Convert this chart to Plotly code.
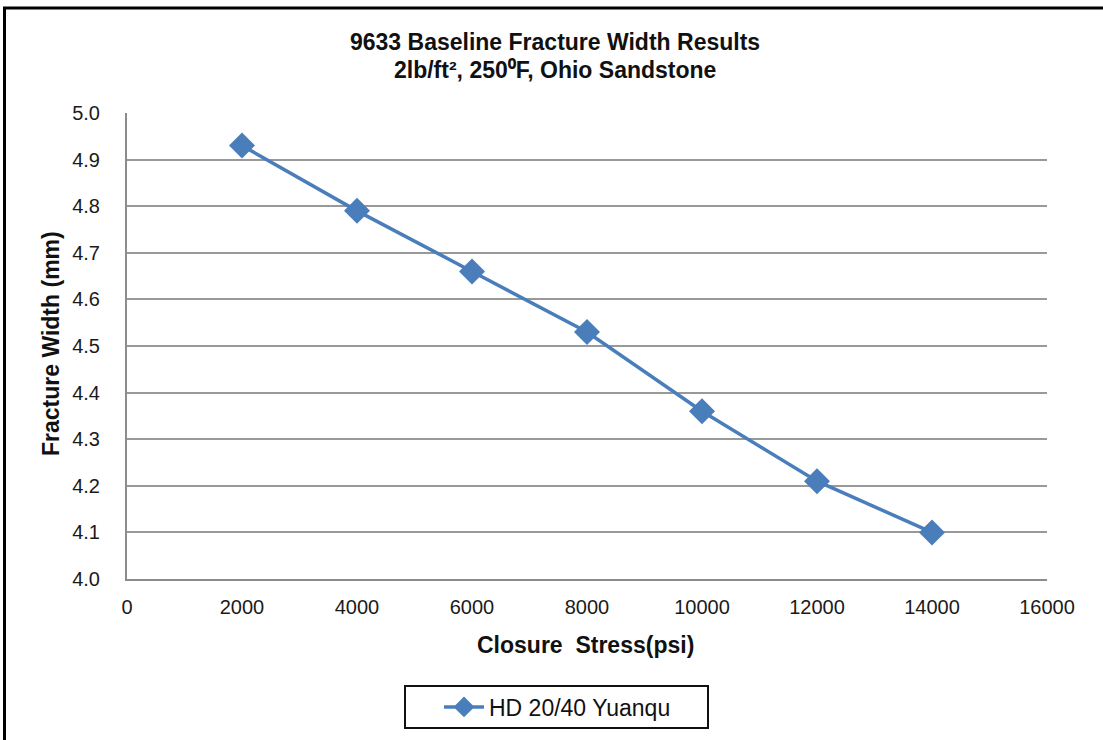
import plotly.graph_objects as go

stress = [2000, 4000, 6000, 8000, 10000, 12000, 14000]
width_mm = [4.93, 4.79, 4.66, 4.53, 4.36, 4.21, 4.10]
series_name = "HD 20/40 Yuanqu"
x_ticks = [0, 2000, 4000, 6000, 8000, 10000, 12000, 14000, 16000]

W, H = 1103, 740
PL, PR, PT, PB = 127, 1047, 113, 579
L = PL
T = PT
R = W - PR
B = H - PB
pw = PR - PL
ph = PB - PT

def px_x(px):
    return (px - PL) / pw

def px_y(py):
    return (PB - py) / ph

font_family = "Liberation Sans, Arial, sans-serif"
blue = "#4A7EBB"

fig = go.Figure()
fig.add_trace(go.Scatter(
    x=stress, y=width_mm, mode="lines+markers", name=series_name,
    line=dict(color=blue, width=3.5),
    marker=dict(symbol="diamond", size=20, color=blue),
))

fig.update_layout(
    width=W, height=H,
    margin=dict(l=L, r=R, t=T, b=B),
    paper_bgcolor="white", plot_bgcolor="white",
    font=dict(family=font_family, color="#1a1a1a"),
    showlegend=True,
    legend=dict(
        x=px_x(439), y=px_y(707), xanchor="left", yanchor="middle",
        orientation="h", borderwidth=0, itemwidth=40,
        font=dict(size=23, family=font_family, color="#111111"),
        bgcolor="rgba(0,0,0,0)",
    ),
    xaxis=dict(
        range=[0, 16000], tickmode="array", tickvals=x_ticks,
        ticktext=[str(v) for v in x_ticks],
        showgrid=False, showline=True, linecolor="#8c8c8c", linewidth=2,
        ticks="", zeroline=False,
        tickfont=dict(size=20, family=font_family, color="#1a1a1a"),
        ticklabelstandoff=9,
    ),
    yaxis=dict(
        range=[4.0, 5.0], dtick=0.1, tick0=4.0, tickformat=".1f",
        showgrid=True, gridcolor="#999999", gridwidth=2,
        showline=True, linecolor="#8c8c8c", linewidth=2,
        ticks="", zeroline=False,
        tickfont=dict(size=20, family=font_family, color="#1a1a1a"),
        ticklabelstandoff=21,
    ),
    annotations=[
        dict(text="<b>9633 Baseline Fracture Width Results</b>",
             xref="paper", yref="paper", x=px_x(555), y=px_y(42),
             xanchor="center", yanchor="middle", showarrow=False,
             font=dict(size=23, family=font_family, color="#111111")),
        dict(text="<b>2lb/ft\u00b2, 250\u2070F, Ohio Sandstone</b>",
             xref="paper", yref="paper", x=px_x(555), y=px_y(70),
             xanchor="center", yanchor="middle", showarrow=False,
             font=dict(size=23, family=font_family, color="#111111")),
        dict(text="<b>Closure\u00a0\u00a0Stress(psi)</b>",
             xref="paper", yref="paper", x=px_x(585), y=px_y(645),
             xanchor="center", yanchor="middle", showarrow=False,
             font=dict(size=23, family=font_family, color="#111111")),
        dict(text="<b>Fracture Width (mm)</b>", textangle=-90,
             xref="paper", yref="paper", x=px_x(51), y=px_y(344),
             xanchor="center", yanchor="middle", showarrow=False,
             font=dict(size=23, family=font_family, color="#111111")),
    ],
    shapes=[
        dict(type="line", xref="paper", yref="paper",
             x0=px_x(3), x1=px_x(1115), y0=px_y(8), y1=px_y(8),
             line=dict(color="#000000", width=3)),
        dict(type="line", xref="paper", yref="paper",
             x0=px_x(4.5), x1=px_x(4.5), y0=px_y(7), y1=px_y(760),
             line=dict(color="#000000", width=3)),
        dict(type="rect", xref="paper", yref="paper",
             x0=px_x(405), x1=px_x(708), y0=px_y(686), y1=px_y(728),
             line=dict(color="#111111", width=2), fillcolor="rgba(0,0,0,0)"),
    ],
)

fig.write_html("out.html",
               config={"displayModeBar": False},
               post_script="document.body.style.margin='0';document.body.style.padding='0';")
